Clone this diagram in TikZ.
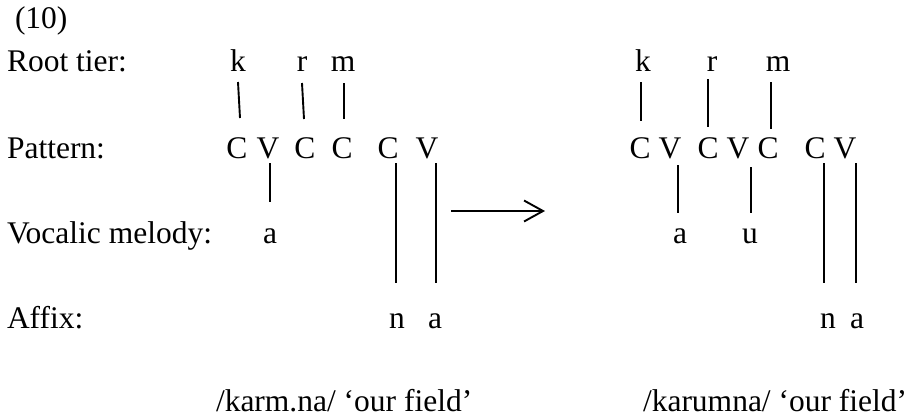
\documentclass[tikz,border=0pt]{standalone}
\usepackage{fontspec}
\setmainfont{Liberation Serif}
\usetikzlibrary{arrows.meta,calc}
\begin{document}
\begin{tikzpicture}[x=1pt,y=-1pt,
  t/.style={anchor=base,inner sep=0pt,outer sep=0pt,font=\fontsize{31.5}{36}\selectfont},
  lbl/.style={t,anchor=base west},
  ln/.style={line width=1.9pt},
  arr/.style={line width=1.9pt,-{Straight Barb[length=19pt,width=21pt]}}]
\useasboundingbox (0,0) rectangle (909,418);
% row labels
\node[lbl] (num)  at (15,28)  {(10)};
\node[lbl] (lroot) at (7,71)  {Root tier:};
\node[lbl] (lpat) at (7,158)  {Pattern:};
\node[lbl] (lvoc) at (7,243)  {Vocalic melody:};
\node[lbl] (laff) at (7,328)  {Affix:};
% ---------- left representation ----------
\node[t] (Lk) at (238,71) {k};
\node[t] (Lr) at (302,71) {r};
\node[t] (Lm) at (343,71) {m};
\node[t] (LC1) at (237,158) {C};
\node[t] (LV2) at (268,158) {V};
\node[t] (LC3) at (305,158) {C};
\node[t] (LC4) at (342,158) {C};
\node[t] (LC5) at (388,158) {C};
\node[t] (LV6) at (427,158) {V};
\node[t] (La) at (270,243) {a};
\node[t] (Ln) at (397,328) {n};
\node[t] (La2) at (435,328) {a};
\draw[ln] ($(Lk.base)+(0,11)$) -- ($(LC1.base)+(3,-40)$);
\draw[ln] ($(Lr.base)+(0,12)$) -- ($(LC3.base)+(-1,-39)$);
\draw[ln] ($(Lm.base)+(1,12)$) -- ($(LC4.base)+(2,-39)$);
\draw[ln] ($(LV2.base)+(2,5)$) -- ($(La.base)+(0,-41)$);
\draw[ln] ($(LC5.base)+(8,5)$) -- ($(Ln.base)+(-1,-45)$);
\draw[ln] ($(LV6.base)+(9,5)$) -- ($(La2.base)+(1,-45)$);
% arrow
\coordinate (arrS) at (451,211);
\coordinate (arrE) at (545,211);
\draw[arr] (arrS) -- (arrE);
% ---------- right representation ----------
\node[t] (Rk) at (643,71) {k};
\node[t] (Rr) at (712,71) {r};
\node[t] (Rm) at (778,71) {m};
\node[t] (RC1) at (640,158) {C};
\node[t] (RV2) at (670,158) {V};
\node[t] (RC3) at (708,158) {C};
\node[t] (RV4) at (738,158) {V};
\node[t] (RC5) at (768,158) {C};
\node[t] (RC6) at (815,158) {C};
\node[t] (RV7) at (845,158) {V};
\node[t] (Ra) at (680,243) {a};
\node[t] (Ru) at (750,243) {u};
\node[t] (Rn) at (828,328) {n};
\node[t] (Ra2) at (857,328) {a};
\draw[ln] ($(Rk.base)+(-2,11)$) -- ($(RC1.base)+(1,-37)$);
\draw[ln] ($(Rr.base)+(-4,8)$) -- ($(RC3.base)+(0,-31)$);
\draw[ln] ($(Rm.base)+(-7,11)$) -- ($(RC5.base)+(3,-29)$);
\draw[ln] ($(RV2.base)+(8,7)$) -- ($(Ra.base)+(-2,-30)$);
\draw[ln] ($(RV4.base)+(13,9)$) -- ($(Ru.base)+(1,-30)$);
\draw[ln] ($(RC6.base)+(9,5)$) -- ($(Rn.base)+(-4,-45)$);
\draw[ln] ($(RV7.base)+(11,5)$) -- ($(Ra2.base)+(-1,-45)$);
% glosses
\node[lbl] (gl) at (216,411) {/karm.na/ ‘our field’};
\node[lbl] (gr) at (643,411) {/karumna/ ‘our field’};
\end{tikzpicture}
\end{document}
